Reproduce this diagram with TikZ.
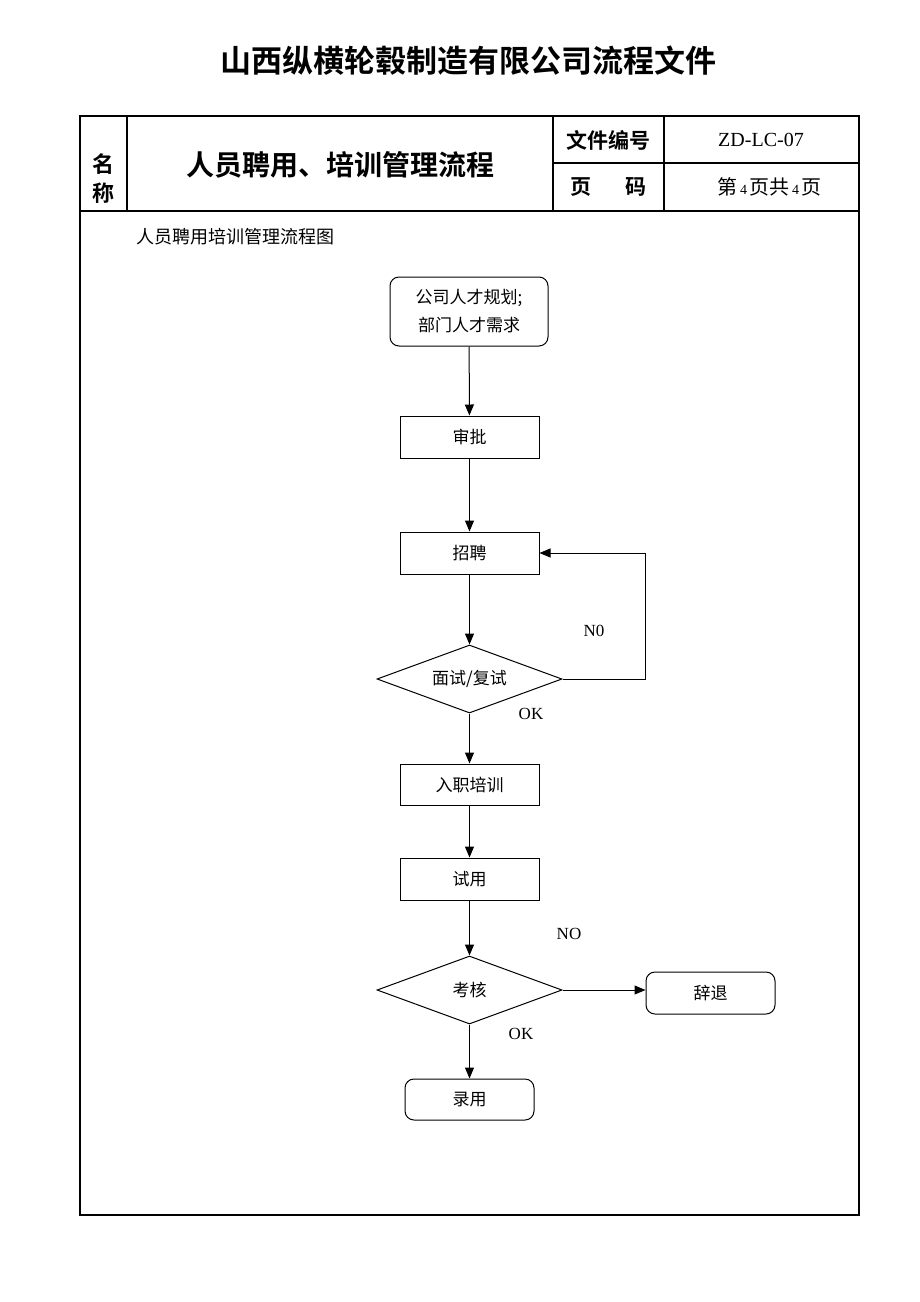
\documentclass[tikz,border=0pt]{standalone}
\usepackage{fontspec}
\setmainfont{Liberation Serif}
\newfontfamily\cjk{Noto Sans CJK SC}
\newfontfamily\cjkb{Noto Sans CJK SC Bold}
\usetikzlibrary{arrows.meta}
\usetikzlibrary{shapes.geometric}
\usetikzlibrary{calc}
\tikzset{
  frame/.style={line width=2pt},
  grid/.style={line width=1.3pt},
  stepbox/.style={draw, line width=1pt, inner sep=0pt, font=\cjk\fontsize{17}{20}\selectfont},
  endbox/.style={stepbox, rounded corners=9pt},
  checkbox/.style={draw, diamond, aspect=2.7, line width=1pt, inner sep=0pt,
    minimum width=185pt, minimum height=68pt, font=\cjk\fontsize{17}{20}\selectfont},
  arr/.style={line width=1pt, -{Triangle[length=11pt, width=9pt]}},
  lbl/.style={font=\fontsize{17}{20}\selectfont}
}
\begin{document}
\begin{tikzpicture}[x=1pt, y=-1pt]
  \useasboundingbox[fill=white] (0,0) rectangle (920,1302);

  % heading and table
  \node (title) at (468,61) {\cjkb\fontsize{31}{34}\selectfont 山西纵横轮毂制造有限公司流程文件};
  \draw[frame] (80,116) rectangle (859,1215);
  \draw[frame] (80,211) -- (859,211);
  \draw[grid] (127,116) -- (127,211);
  \draw[grid] (553,116) -- (553,211);
  \draw[grid] (664,116) -- (664,211);
  \draw[grid] (553,163) -- (859,163);

  \node (ming) at (103,164) {\cjkb\fontsize{22}{24}\selectfont 名};
  \node (cheng) at (103,193) {\cjkb\fontsize{22}{24}\selectfont 称};
  \node (name) at (340,165) {\cjkb\fontsize{28}{30}\selectfont 人员聘用、培训管理流程};
  \node (wjbh) at (608,140) {\cjkb\fontsize{21}{24}\selectfont 文件编号};
  \node (ye) at (581,187) {\cjkb\fontsize{21}{24}\selectfont 页};
  \node (ma) at (636,187) {\cjkb\fontsize{21}{24}\selectfont 码};
  \node (code) at (761,140) {\fontsize{20}{24}\selectfont ZD-LC-07};
  \node (page) at (769,187) {\cjk\fontsize{20}{24}\selectfont 第\hspace{3pt}{\rmfamily\fontsize{14}{16}\selectfont 4}\hspace{2pt}页共\hspace{3pt}{\rmfamily\fontsize{14}{16}\selectfont 4}\hspace{2pt}页};
  \node[anchor=west, inner sep=0pt] (caption) at (136,237) {\cjk\fontsize{18}{20}\selectfont 人员聘用培训管理流程图};

  % flow chart
  \node[endbox, minimum width=158pt, minimum height=69pt, align=center] (plan) at (469,311.5)
    {公司人才规划;\\[8pt]部门人才需求};
  \node[stepbox, minimum width=139pt, minimum height=42pt] (approve) at (469.5,437) {审批};
  \node[stepbox, minimum width=139pt, minimum height=42pt] (recruit) at (469.5,553) {招聘};
  \node[checkbox] (interview) at (469.5,679) {面试/复试};
  \node[stepbox, minimum width=139pt, minimum height=41pt] (train) at (469.5,784.5) {入职培训};
  \node[stepbox, minimum width=139pt, minimum height=42pt] (trial) at (469.5,879) {试用};
  \node[checkbox] (assess) at (469.5,990) {考核};
  \node[endbox, minimum width=129pt, minimum height=42pt] (dismiss) at (710.5,993) {辞退};
  \node[endbox, minimum width=129pt, minimum height=41pt] (hire) at (469.5,1099.5) {录用};

  \draw[arr] (plan) -- (approve);
  \draw[arr] (approve) -- (recruit);
  \draw[arr] (recruit) -- (interview);
  \draw[arr] (interview.east) -- ++(83,0) |- (recruit.east);
  \draw[arr] (interview) -- (train);
  \draw[arr] (train) -- (trial);
  \draw[arr] (trial) -- (assess);
  \draw[arr] (assess.east) -- (assess.east -| dismiss.west);
  \draw[arr] (assess) -- (hire);

  \node[lbl] (no1) at (594,631) {N0};
  \node[lbl] (ok1) at (531,714) {OK};
  \node[lbl] (no2) at (569,934) {NO};
  \node[lbl] (ok2) at (521,1034) {OK};
\end{tikzpicture}
\end{document}
